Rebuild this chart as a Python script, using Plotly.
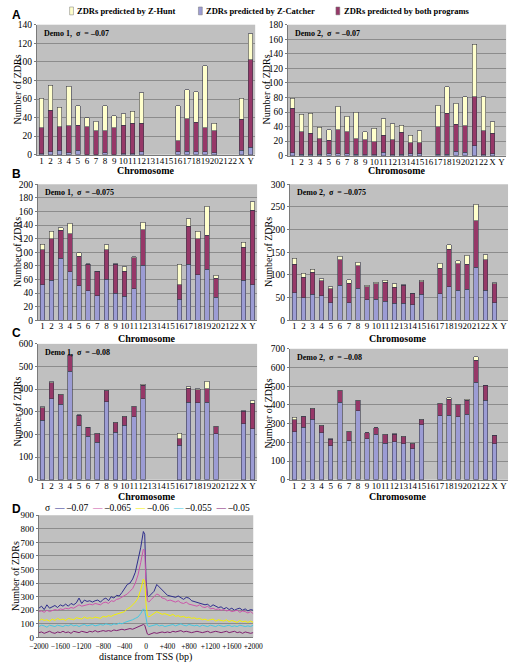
import plotly.graph_objects as go

W, H = 519, 668
SERIF = "Liberation Serif"
SANS = "Liberation Sans"

# ---------------- data ----------------
CHROMS = ["1", "2", "3", "4", "5", "6", "7", "8", "9", "10", "11", "12",
          "13", "14", "15", "16", "17", "18", "19", "20", "21", "22", "X", "Y"]

L_CHROMS = ["1", "2", "3", "4", "5", "6", "7", "8", "9", "10", "11", "12",
            "16", "17", "18", "19", "20", "X", "Y"]
R_CHROMS = ["1", "2", "3", "4", "5", "6", "7", "8", "9", "10", "11", "12",
            "13", "14", "15", "17", "18", "19", "20", "21", "22", "X"]

# Panel A  (sigma = -0.07)
a1_catcher = [1, 3, 5, 2, 5, 0, 0, 2, 0, 1, 1, 3, 3, 4, 3, 3, 2, 5, 8]
a1_both = [28, 45, 25, 29, 27, 30, 26, 24, 29, 31, 33, 31, 12, 35, 32, 26, 24, 33, 94]
a1_hunt = [32, 27, 21, 43, 21, 10, 10, 27, 13, 12, 13, 33, 38, 31, 33, 67, 8, 23, 28]

a2_catcher = [4, 2, 2, 2, 3, 3, 3, 2, 1, 1, 5, 1, 2, 3, 3, 2, 2, 6, 5, 14, 1, 3]
a2_both = [61, 31, 29, 21, 18, 33, 30, 21, 21, 18, 23, 21, 30, 15, 15, 38, 56, 37, 36, 67, 33, 28]
a2_hunt = [14, 24, 27, 16, 15, 32, 21, 37, 11, 19, 23, 22, 10, 10, 16, 29, 37, 29, 40, 72, 47, 16]

# Panel B  (sigma = -0.075)
b1_catcher = [52, 59, 91, 71, 51, 43, 36, 60, 40, 35, 46, 81, 31, 82, 67, 75, 34, 59, 52]
b1_both = [52, 61, 41, 56, 43, 39, 36, 44, 42, 37, 46, 52, 21, 56, 53, 50, 28, 48, 110]
b1_hunt = [8, 11, 4, 16, 5, 1, 0, 7, 1, 7, 1, 11, 30, 11, 11, 43, 4, 8, 12]

b2_catcher = [61, 50, 57, 54, 39, 77, 38, 70, 45, 46, 42, 37, 37, 34, 57, 58, 74, 66, 68, 117, 66, 38]
b2_both = [63, 45, 49, 33, 30, 56, 44, 50, 29, 34, 42, 36, 40, 25, 28, 57, 83, 59, 56, 103, 67, 42]
b2_hunt = [13, 9, 7, 4, 5, 8, 7, 8, 3, 4, 4, 8, 1, 1, 3, 11, 10, 6, 19, 36, 12, 3]

# Panel C  (sigma = -0.08)
c1_catcher = [262, 358, 333, 480, 238, 193, 166, 345, 210, 240, 278, 358, 153, 343, 340, 343, 203, 248, 226]
c1_both = [56, 70, 42, 70, 47, 38, 37, 49, 42, 39, 45, 60, 28, 60, 58, 59, 32, 54, 112]
c1_hunt = [4, 4, 3, 3, 2, 2, 2, 2, 1, 2, 2, 3, 24, 7, 4, 34, 1, 2, 11]

c2_catcher = [257, 281, 323, 252, 181, 413, 208, 369, 220, 242, 196, 203, 193, 167, 293, 342, 344, 338, 351, 521, 424, 193]
c2_both = [63, 55, 56, 37, 36, 62, 48, 54, 30, 36, 44, 40, 37, 26, 29, 65, 86, 63, 73, 117, 81, 44]
c2_hunt = [13, 2, 2, 2, 1, 3, 2, 3, 2, 1, 2, 2, 2, 2, 2, 2, 9, 2, 6, 19, 1, 1]

# Panel D  distance from TSS
tss_dist = [-2000, -1950, -1900, -1850, -1800, -1750, -1700, -1650, -1600, -1550,
            -1500, -1450, -1400, -1350, -1300, -1250, -1200, -1150, -1100, -1050,
            -1000, -950, -900, -850, -800, -750, -700, -650, -600, -550,
            -500, -450, -400, -350, -300, -250, -200, -150, -100, -50,
            -25, 0, 25,
            50, 100, 150, 200, 250, 300, 350, 400, 450, 500,
            550, 600, 650, 700, 750, 800, 850, 900, 950, 1000,
            1050, 1100, 1150, 1200, 1250, 1300, 1350, 1400, 1450, 1500,
            1550, 1600, 1650, 1700, 1750, 1800, 1850, 1900, 1950, 2000]

d_070 = [215, 230, 205, 240, 215, 225, 235, 220, 240, 230,
         245, 230, 250, 240, 255, 290, 250, 275, 265, 270,
         260, 270, 275, 260, 280, 290, 270, 300, 290, 310,
         305, 330, 360, 390, 400, 430, 480, 560, 660, 780,
         760, 430, 310,
         300, 320, 340, 390, 370, 350, 330, 310, 305, 300,
         295, 305, 290, 280, 295, 290, 270, 265, 260, 255,
         250, 240, 245, 225, 240, 230, 220, 225, 210, 220,
         205, 215, 200, 210, 215, 200, 210, 195, 205, 200]
d_065 = [190, 195, 185, 200, 190, 195, 205, 200, 210, 205,
         215, 210, 220, 215, 225, 240, 230, 235, 240, 245,
         240, 250, 245, 240, 255, 260, 250, 270, 265, 280,
         285, 295, 310, 320, 340, 360, 400, 460, 550, 650,
         640, 380, 270,
         260, 280, 300, 320, 310, 290, 285, 270, 275, 265,
         260, 270, 255, 250, 260, 245, 240, 235, 230, 240,
         225, 220, 230, 210, 215, 205, 210, 200, 205, 195,
         200, 190, 195, 200, 185, 195, 190, 180, 190, 175]
d_060 = [120, 135, 125, 130, 120, 135, 125, 140, 130, 135,
         125, 140, 135, 130, 145, 140, 135, 150, 140, 145,
         140, 150, 145, 140, 155, 150, 160, 155, 165, 170,
         175, 180, 190, 210, 220, 240, 260, 290, 350, 430,
         410, 250, 160,
         150, 165, 175, 190, 180, 170, 175, 165, 160, 170,
         155, 160, 150, 155, 145, 150, 140, 145, 135, 140,
         130, 135, 125, 130, 135, 120, 130, 125, 120, 130,
         115, 125, 120, 110, 125, 115, 120, 110, 120, 110]
d_055 = [80, 90, 85, 75, 90, 85, 80, 90, 85, 80,
         90, 85, 95, 85, 90, 80, 90, 95, 85, 90,
         95, 85, 90, 95, 90, 100, 95, 90, 100, 95,
         105, 100, 110, 115, 120, 130, 140, 150, 175, 210,
         200, 140, 90,
         80, 85, 90, 95, 85, 90, 80, 85, 90, 95,
         85, 90, 100, 90, 85, 95, 90, 85, 90, 80,
         90, 85, 80, 90, 85, 80, 90, 85, 80, 85,
         90, 80, 85, 80, 90, 85, 80, 85, 80, 90]
d_050 = [35, 40, 30, 35, 45, 35, 30, 40, 35, 45,
         35, 40, 30, 45, 40, 35, 45, 40, 35, 45,
         40, 50, 40, 45, 50, 45, 50, 45, 55, 50,
         55, 60, 55, 60, 65, 60, 70, 75, 85, 95,
         90, 50, 25,
         20, 30, 35, 30, 35, 40, 35, 40, 35, 45,
         40, 45, 50, 40, 45, 40, 35, 40, 45, 40,
         35, 40, 45, 35, 40, 45, 40, 35, 40, 45,
         35, 40, 45, 35, 40, 30, 40, 35, 30, 35]

D_TICKVALS = [-2000, -1600, -1200, -800, -400, 0, 400, 800, 1200, 1600, 2000]
D_TICKTEXT = ["\u22122000", "\u22121600", "\u22121200", "\u2212800", "\u2212400", "0",
              "+400", "+800", "+1200", "+1600", "+2000"]

SERIES_NAMES = ["\u20130.07", "\u20130.065", "\u20130.06", "\u20130.055", "\u20130.05"]
LINE_COLORS = ["#2e2e8c", "#cc55aa", "#f2f000", "#44c8e0", "#802070"]

COL_CATCHER = "#9c9cd4"
COL_BOTH = "#963868"
COL_HUNT = "#ffffcc"
EDGE = "#3a3a4a"
PLOT_BG = "#c0c0c0"
GRID = "#8c8c8c"


def fx(p):
    return p / W


def fy(p):
    return 1 - p / H


def note(text, x, y, size, family=SERIF, bold=False, angle=0, xanchor="center"):
    return dict(text=text, xref="paper", yref="paper", x=fx(x), y=fy(y),
                xanchor=xanchor, yanchor="middle", textangle=angle, showarrow=False,
                font=dict(family=family, size=size, color="black",
                          weight="bold" if bold else "normal"))


fig = go.Figure()

panels = [
    # (axis idx, chroms, catcher, both, hunt, x px domain, y px domain, ymax, dtick, label)
    (1, L_CHROMS, a1_catcher, a1_both, a1_hunt, (28, 255), (20, 152), 140, 20, "Demo 1,  \u03c3  = \u20130.07"),
    (2, R_CHROMS, a2_catcher, a2_both, a2_hunt, (289, 516), (20, 153), 180, 20, "Demo 2,  \u03c3  = \u20130.07"),
    (3, L_CHROMS, b1_catcher, b1_both, b1_hunt, (29, 257), (182, 320), 200, 20, "Demo 1,  \u03c3  = \u20130.075"),
    (4, R_CHROMS, b2_catcher, b2_both, b2_hunt, (291, 518), (182, 320), 300, 50, "Demo 2,  \u03c3  = \u20130.075"),
    (5, L_CHROMS, c1_catcher, c1_both, c1_hunt, (29, 257), (344, 482), 600, 100, "Demo 1,  \u03c3  = \u20130.08"),
    (6, R_CHROMS, c2_catcher, c2_both, c2_hunt, (291, 518), (349, 482), 700, 100, "Demo 2,  \u03c3  = \u20130.08"),
]

layout_axes = {}
annotations = []

for idx, chroms, cat, both, hunt, xd, yd, ymax, dt, label in panels:
    xa = "x" if idx == 1 else f"x{idx}"
    ya = "y" if idx == 1 else f"y{idx}"
    for vals, col in ((cat, COL_CATCHER), (both, COL_BOTH), (hunt, COL_HUNT)):
        fig.add_trace(go.Bar(
            x=chroms, y=vals, xaxis=xa, yaxis=ya, width=0.5,
            marker=dict(color=col, line=dict(color=EDGE, width=0.6)),
            showlegend=False, hoverinfo="skip"))
    xkey = "xaxis" if idx == 1 else f"xaxis{idx}"
    ykey = "yaxis" if idx == 1 else f"yaxis{idx}"
    layout_axes[xkey] = dict(
        domain=[fx(xd[0]), fx(xd[1])], anchor=ya, type="category",
        categoryorder="array", categoryarray=CHROMS,
        tickmode="array", tickvals=CHROMS, ticktext=CHROMS,
        range=[-0.5, 23.5], tickangle=0, showgrid=False,
        showline=True, linecolor="#7a7a7a", linewidth=1, ticks="",
        ticklabelstandoff=-3,
        tickfont=dict(family=SERIF, size=9, color="black"), zeroline=False)
    layout_axes[ykey] = dict(
        domain=[fy(yd[1]), fy(yd[0])], anchor=xa, range=[0, ymax], dtick=dt,
        showgrid=True, gridcolor=GRID, gridwidth=1,
        showline=True, linecolor="#7a7a7a", linewidth=1,
        ticks="outside", ticklen=2, tickcolor="#7a7a7a",
        tickfont=dict(family=SERIF, size=9.5, color="black"), zeroline=False)
    annotations.append(dict(
        text=label, xref=f"{xa} domain", yref=f"{ya} domain",
        x=0.025, y=0.985, xanchor="left", yanchor="top", showarrow=False,
        font=dict(family=SERIF, size=8, color="black", weight="bold")))

# Panel D lines
for vals, name, col in zip([d_070, d_065, d_060, d_055, d_050], SERIES_NAMES, LINE_COLORS):
    fig.add_trace(go.Scatter(
        x=tss_dist, y=vals, xaxis="x7", yaxis="y7", mode="lines", name=name,
        line=dict(color=col, width=1), showlegend=False, hoverinfo="skip"))

layout_axes["xaxis7"] = dict(
    domain=[fx(30), fx(253)], anchor="y7", range=[-2000, 2000],
    tickmode="array", tickvals=D_TICKVALS, ticktext=D_TICKTEXT, tickangle=0,
    showgrid=False, showline=True, linecolor="#7a7a7a", ticks="",
    ticklabelstandoff=2,
    tickfont=dict(family=SERIF, size=7.5, color="black"), zeroline=False)
layout_axes["yaxis7"] = dict(
    domain=[fy(642), fy(518)], anchor="x7", range=[0, 900], dtick=100,
    showgrid=True, gridcolor=GRID, gridwidth=1,
    showline=True, linecolor="#7a7a7a", ticks="outside", ticklen=2, tickcolor="#7a7a7a",
    tickfont=dict(family=SERIF, size=9, color="black"), zeroline=False)

# Axis titles
for cx, cy in ((141, 168), (402, 168), (143, 339), (404, 339), (143, 499), (404, 499)):
    annotations.append(note("Chromosome", cx, cy, 10, bold=True))
for tx, ty in ((8, 86), (267, 86), (8, 251), (269, 251), (8, 413), (269, 415), (6, 580)):
    annotations.append(note("Number of ZDRs", tx, ty, 10, angle=-90))
annotations.append(note("distance from TSS (bp)", 141, 662, 10))

# Panel letters
for lt, ly in (("A", 10), ("B", 172), ("C", 333), ("D", 512)):
    annotations.append(note(lt, 0, ly, 12, family=SANS, bold=True, xanchor="left"))

# Top legend
shapes = []
legend_items = [("ZDRs predicted by Z-Hunt", COL_HUNT, 62),
                ("ZDRs predicted by Z-Catcher", COL_CATCHER, 196),
                ("ZDRs predicted by both programs", COL_BOTH, 339)]
for txt, col, x0 in legend_items:
    shapes.append(dict(type="rect", xref="paper", yref="paper",
                       x0=fx(x0), x1=fx(x0 + 4), y0=fy(10), y1=fy(2),
                       fillcolor=col, line=dict(color="#777777", width=0.5)))
    annotations.append(note(txt, x0 + 6, 6, 8.5, bold=True, xanchor="left"))

# Panel D legend
leg = "\u03c3 "
for name, col in zip(SERIES_NAMES, LINE_COLORS):
    leg += f" <span style='color:{col}'>\u2014</span> {name} "
annotations.append(note(leg, 144, 511, 9.5))

fig.update_layout(
    width=W, height=H, margin=dict(l=0, r=0, t=0, b=0),
    paper_bgcolor="white", plot_bgcolor=PLOT_BG,
    barmode="stack", showlegend=False,
    annotations=annotations, shapes=shapes, **layout_axes)

fig.write_html("out.html", config={"displayModeBar": False},
               post_script="document.body.style.margin='0';document.body.style.overflow='hidden';")
